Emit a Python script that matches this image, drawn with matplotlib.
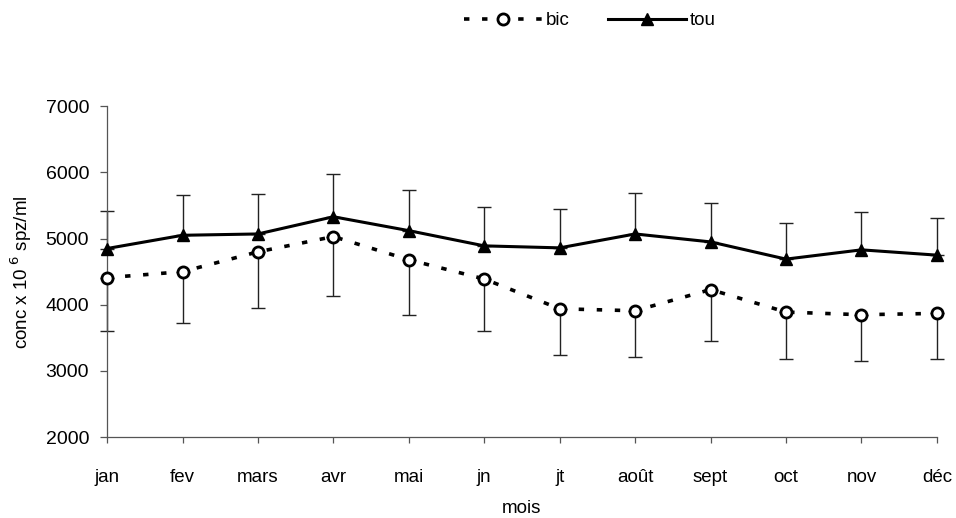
import matplotlib.pyplot as plt
import numpy as np

plt.rcParams['font.family'] = ['Liberation Sans', 'DejaVu Sans']

mois = ['jan', 'fev', 'mars', 'avr', 'mai', 'jn', 'jt', 'août', 'sept', 'oct', 'nov', 'déc']

# moyennes mensuelles (x 10^6 spz/ml) et écarts-types
bic = [4410, 4500, 4800, 5030, 4680, 4390, 3940, 3910, 4230, 3890, 3850, 3870]
bic_sd = [800, 780, 850, 890, 840, 790, 700, 700, 770, 710, 700, 690]
tou = [4850, 5050, 5070, 5330, 5120, 4890, 4860, 5070, 4950, 4690, 4830, 4750]
tou_sd = [570, 610, 610, 650, 620, 590, 590, 620, 590, 550, 570, 560]

x = np.arange(len(mois))

fig = plt.figure(figsize=(9.56, 5.18), dpi=100)
ax = fig.add_axes([0.112, 0.156, 0.868, 0.639])

# barres d'erreur : vers le bas pour bic, vers le haut pour tou
ax.errorbar(x, bic, yerr=[bic_sd, np.zeros(len(x))], fmt='none', ecolor='#222222',
            elinewidth=1.0, capsize=5, capthick=1.0, clip_on=False, zorder=2)
ax.errorbar(x, tou, yerr=[np.zeros(len(x)), tou_sd], fmt='none', ecolor='#222222',
            elinewidth=1.0, capsize=5, capthick=1.0, clip_on=False, zorder=2)

ax.plot(x, bic, color='black', lw=2.6, ls=(0, (1.5, 3.5)), marker='o', ms=8,
        mfc='white', mec='black', mew=2, label='bic', clip_on=False, zorder=3)
ax.plot(x, tou, color='black', lw=2.2, marker='^', ms=9, mfc='black', mec='black',
        label='tou', clip_on=False, zorder=3)

ax.set_xlim(0, 11)
ax.set_ylim(2000, 7000)
ax.set_yticks(range(2000, 7001, 1000))
ax.set_xticks(x)
ax.set_xticklabels(mois)

for side in ['top', 'right']:
    ax.spines[side].set_visible(False)
for side in ['left', 'bottom']:
    ax.spines[side].set_color('#555555')
    ax.spines[side].set_linewidth(0.9)

ax.tick_params(axis='y', length=5, width=0.9, color='#555555', pad=8, labelsize=14)
ax.tick_params(axis='x', length=4, width=0.9, color='#555555', pad=19, labelsize=13.5)

ax.set_ylabel('conc x 10$^{\\ 6}$ spz/ml', fontsize=13.5, labelpad=8)
ax.set_xlabel('mois', fontsize=13.5, labelpad=10)

fig.legend(loc='center', bbox_to_anchor=(0.617, 0.96), ncol=2, frameon=False,
           fontsize=13.5, handlelength=4.2, handletextpad=0.2, columnspacing=2.0)

fig.savefig('out.png', dpi=100)
